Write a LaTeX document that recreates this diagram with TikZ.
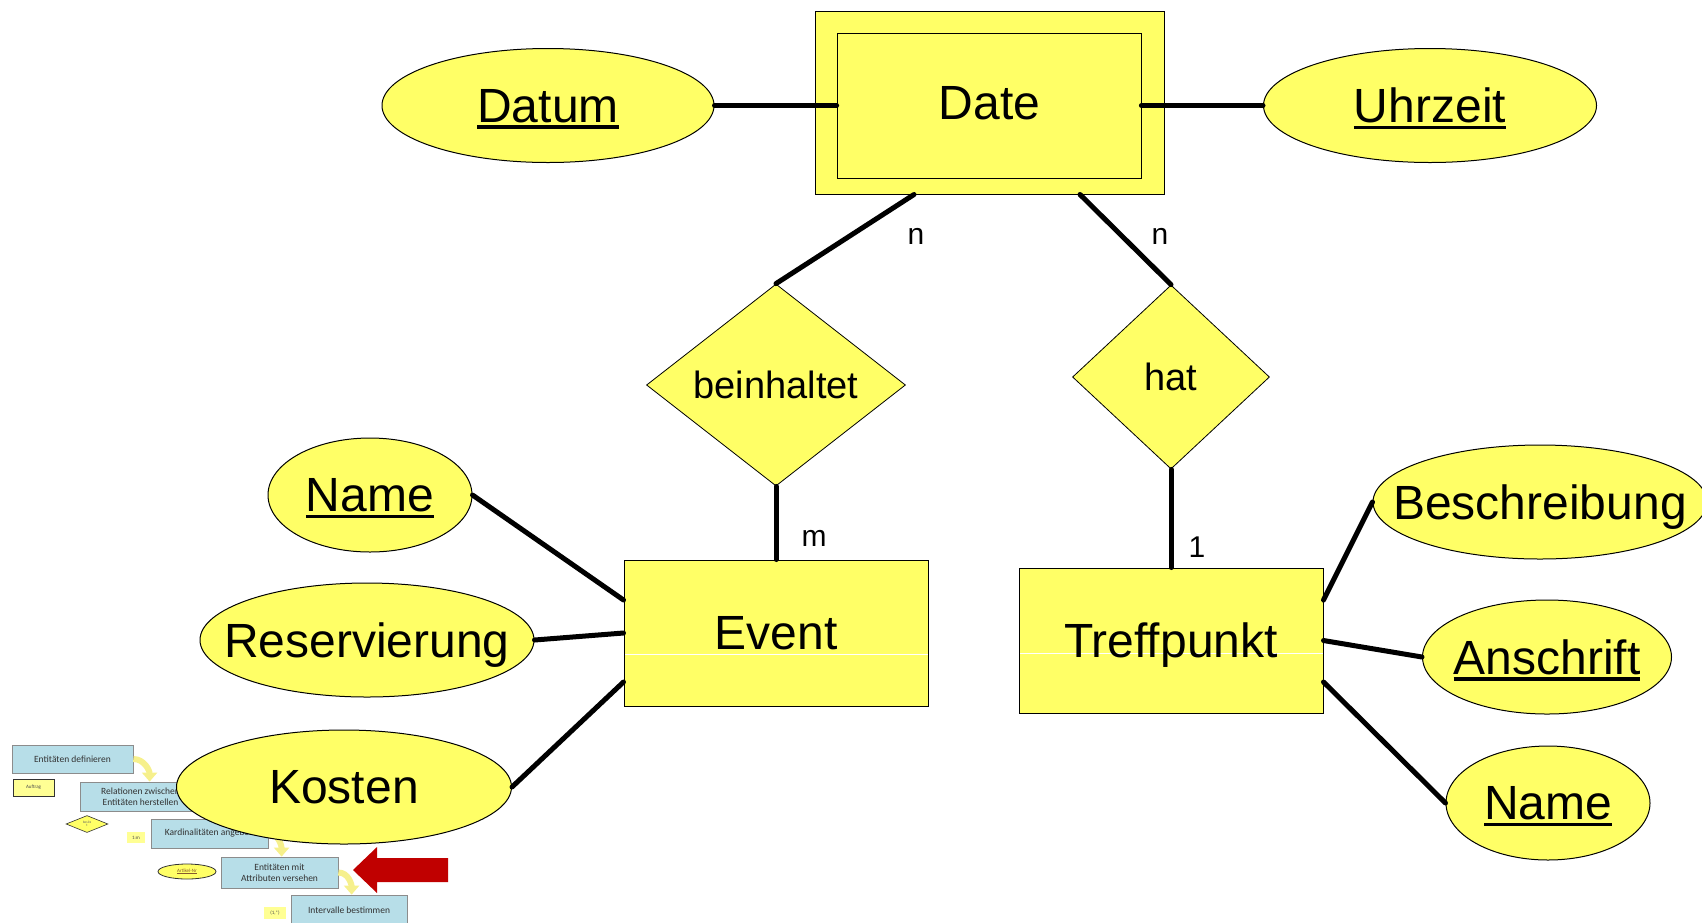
\documentclass[tikz,border=0pt]{standalone}
\usepackage{fontspec}
\setmainfont{Liberation Sans}
\newfontfamily\stepfont{Carlito}
\usetikzlibrary{shapes.geometric,arrows.meta}
\definecolor{erfill}{HTML}{FFFF66}
\definecolor{stepfill}{HTML}{B7DEE8}
\definecolor{bendfill}{HTML}{F6F08C}
\definecolor{arrowred}{HTML}{C00000}
\newlength\keywd
\newcommand{\keyname}[1]{\settowidth{\keywd}{#1}\makebox[0pt]{\rlap{\smash{\rule[-6.5pt]{\keywd}{3.5pt}}}#1}}
\newcommand{\attrname}[1]{\makebox[0pt]{#1}}
\begin{document}
\begin{tikzpicture}[x=1pt,y=-1pt,
  entity/.style={rectangle,draw,fill=erfill,line width=1pt,inner sep=0pt,
    font=\fontsize{48}{56}\selectfont,text depth=0pt},
  splitline/.style={path picture={\draw[white,line width=1pt]
    ([yshift=#1]path picture bounding box.west) -- ([yshift=#1]path picture bounding box.east);}},
  attr/.style={ellipse,draw,fill=erfill,line width=1pt,inner sep=0pt,minimum height=114pt,
    font=\fontsize{48}{56}\selectfont,text depth=0pt},
  rel/.style={diamond,draw,fill=erfill,line width=0.8pt,inner sep=0pt,
    font=\fontsize{38}{44}\selectfont,text depth=0pt},
  conn/.style={line width=5pt,line cap=round},
  card/.style={inner sep=0pt,font=\fontsize{30}{36}\selectfont},
  stepbox/.style={rectangle,draw=black!45,fill=stepfill,line width=0.8pt,inner sep=0pt,
    minimum width=117pt,minimum height=29pt,align=center,text=black!80,
    font=\stepfont\fontsize{9.5}{11}\selectfont},
  tagbox/.style={rectangle,fill=erfill!70,inner sep=0pt,text=black!70,
    font=\stepfont\fontsize{5}{6}\selectfont},
  stepturn/.style={line width=6pt,bendfill,-{Triangle[width=15pt,length=9pt]}}]
\useasboundingbox (0,0) rectangle (1702,922);

\node[stepbox,minimum width=121pt,minimum height=28pt] (define) at (72.5,759) {Entitäten definieren};
\node[tagbox,draw=black!80,line width=0.8pt,minimum width=41pt,minimum height=17pt] (auftrag) at (33.5,787.5) {Auftrag};
\node[stepbox,minimum width=121pt] (relate) at (140.5,796.5) {Relationen zwischen\\Entitäten herstellen};
\node[diamond,draw=black!80,fill=erfill,line width=0.6pt,inner sep=0pt,minimum width=42pt,minimum height=17pt,
  align=center,text=black!60,font=\stepfont\fontsize{3.5}{3.5}\selectfont] (besitzt) at (87,824) {besitz\\t};
\node[tagbox,minimum width=18pt,minimum height=11pt] (onem) at (136,837.5) {1:m};
\node[stepbox] (cardin) at (209.5,833.5) {Kardinalitäten angeben};
\node[ellipse,draw=black!80,fill=erfill,line width=0.8pt,inner sep=0pt,minimum width=58pt,minimum height=15pt,
  text=brown!70!black,font=\stepfont\fontsize{5}{6}\selectfont] (artikel) at (187,871.5) {\underline{Artikel-Nr}};
\node[stepbox,minimum height=31pt] (attrib) at (279.5,872.5) {Entitäten mit\\Attributen versehen};
\node[stepbox,minimum width=116pt,minimum height=30pt] (interv) at (349,910) {Intervalle bestimmen};
\node[tagbox,minimum width=22pt,minimum height=12pt] (onestar) at (275,913) {(1,*)};
\draw[stepturn] (define.east) to[out=0,in=90] ([xshift=70pt]relate.north west);
\draw[stepturn] (relate.east) to[out=0,in=90] ([xshift=64pt]cardin.north west);
\draw[stepturn] (cardin.east) to[out=0,in=90] ([xshift=61pt]attrib.north west);
\draw[stepturn] (attrib.east) to[out=0,in=90] ([xshift=61pt]interv.north west);
\fill[arrowred] (353,870) -- (377,847) -- (377,858) -- (448,858) -- (448,882) -- (377,882) -- (377,893) -- cycle;

\node[entity,minimum width=349pt,minimum height=183pt] (date) at (989.5,102.5) {Date};
\node[rectangle,draw,line width=0.8pt,minimum width=304pt,minimum height=145pt] (dateinner) at (989,105.5) {};
\node[entity,splitline=-21pt,minimum width=304pt,minimum height=146pt] (event) at (776,633) {Event};
\node[entity,splitline=-12.5pt,minimum width=304pt,minimum height=145pt] (treff) at (1171,640.5) {Treffpunkt};

\node[attr,minimum width=332pt] (datum) at (548,105.5) {\keyname{Datum}};
\node[attr,minimum width=333pt] (uhrzeit) at (1430,105.5) {\keyname{Uhrzeit}};
\node[attr,minimum width=204pt] (evname) at (370,495) {\keyname{Name}};
\node[attr,minimum width=334pt] (reserv) at (367,640) {\attrname{Reservierung}};
\node[attr,minimum width=335pt] (kosten) at (344,787) {\attrname{Kosten}};
\node[attr,minimum width=334pt] (beschr) at (1540,502) {\attrname{Beschreibung}};
\node[attr,minimum width=249pt] (anschr) at (1547,657) {\keyname{Anschrift}};
\node[attr,minimum width=204pt] (tpname) at (1548,803) {\keyname{Name}};

\node[rel,minimum width=259pt,minimum height=202pt] (beinh) at (776,385) {\attrname{beinhaltet}};
\node[rel,minimum width=197pt,minimum height=184pt] (hat) at (1171,377) {\attrname{hat}};

\draw[conn] (datum.east) -- (dateinner.west);
\draw[conn] (dateinner.east) -- (uhrzeit.west);
\draw[conn] ([xshift=-75.5pt]date.south) -- (beinh.north);
\draw[conn] ([xshift=90.5pt]date.south) -- (hat.north);
\draw[conn] (beinh.south) -- (event.north);
\draw[conn] (hat.south) -- (treff.north);
\draw[conn] (evname.east) -- ([yshift=33pt]event.west);
\draw[conn] (reserv.east) -- (event.west);
\draw[conn] (kosten.east) -- ([yshift=-49pt]event.west);
\draw[conn] (beschr.west) -- ([yshift=40.5pt]treff.east);
\draw[conn] (anschr.west) -- (treff.east);
\draw[conn] (tpname.west) -- ([yshift=-41.5pt]treff.east);

\node[card] (cardbn) at (916,236) {n};
\node[card] (cardhn) at (1160,236) {n};
\node[card] (cardbm) at (814,538) {m};
\node[card] (cardh1) at (1197,547) {1};
\end{tikzpicture}
\end{document}
